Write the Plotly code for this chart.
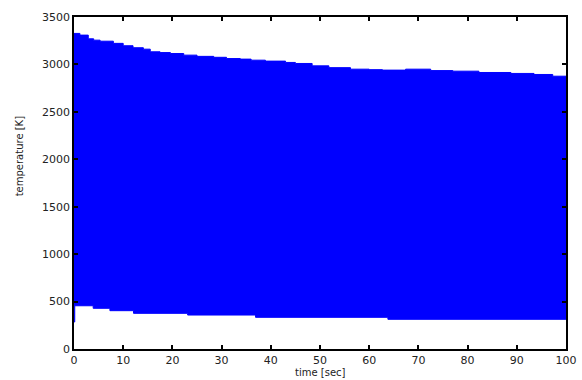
import plotly.graph_objects as go

# Upper envelope of the temperature band (step breakpoints: time [s], temperature [K])
upper_t = [0, 1.2, 2.9, 4.0, 5.3, 8.0, 10.0, 12.0, 14.1, 15.5, 17.5, 19.6, 22.3, 25.0,
           28.4, 31.0, 33.8, 36.0, 38.9, 43.0, 45.0, 48.4, 51.8, 56.2, 60.0, 62.7,
           67.4, 72.5, 77.0, 82.3, 88.8, 93.5, 97.3, 100]
upper_v = [3327, 3309, 3270, 3256, 3245, 3222, 3197, 3176, 3161, 3133, 3125, 3115, 3098, 3085,
           3075, 3062, 3056, 3045, 3035, 3021, 3010, 2985, 2966, 2950, 2945, 2940,
           2950, 2935, 2929, 2915, 2905, 2894, 2876, 2870]

# Lower envelope of the temperature band
lower_t = [0, 0.15, 3.9, 7.3, 12.1, 23.1, 36.9, 63.8, 100]
lower_v = [285, 456, 429, 404, 376, 358, 334, 313, 313]

x_ticks = [0, 10, 20, 30, 40, 50, 60, 70, 80, 90, 100]
y_ticks = [0, 500, 1000, 1500, 2000, 2500, 3000, 3500]

BLUE = "#0000FF"
FONT = "DejaVu Sans"
TXT = "#222222"

fig = go.Figure()
fig.add_trace(go.Scatter(x=lower_t, y=lower_v, mode="lines", line=dict(color=BLUE, width=1, shape="hv"),
                         showlegend=False, hoverinfo="skip"))
fig.add_trace(go.Scatter(x=upper_t, y=upper_v, mode="lines", line=dict(color=BLUE, width=1, shape="hv"),
                         fill="tonexty", fillcolor=BLUE, showlegend=False, hoverinfo="skip"))

axis_common = dict(showgrid=False, zeroline=False, showline=True, linecolor="black", linewidth=1.5,
                   mirror="ticks", ticks="inside", ticklen=4, tickcolor="black", tickwidth=1.5,
                   tickfont=dict(family=FONT, size=11, color=TXT))

fig.update_layout(
    width=582, height=380,
    margin=dict(l=74, r=16, t=17, b=31, autoexpand=False),
    paper_bgcolor="white", plot_bgcolor="white",
    xaxis=dict(range=[0, 100], tickvals=x_ticks, ticktext=[str(v) for v in x_ticks], **axis_common),
    yaxis=dict(range=[0, 3500], tickvals=y_ticks, ticktext=[str(v) for v in y_ticks], **axis_common),
    annotations=[
        dict(text="time [sec]", xref="paper", yref="paper", x=0.5, y=-0.071, yanchor="middle",
             showarrow=False, font=dict(family=FONT, size=10, color=TXT)),
        dict(text="temperature [K]", xref="paper", yref="paper", x=-0.11, y=0.58, xanchor="center",
             textangle=-90, showarrow=False, font=dict(family=FONT, size=10, color=TXT)),
    ],
)

fig.write_html("out.html")
